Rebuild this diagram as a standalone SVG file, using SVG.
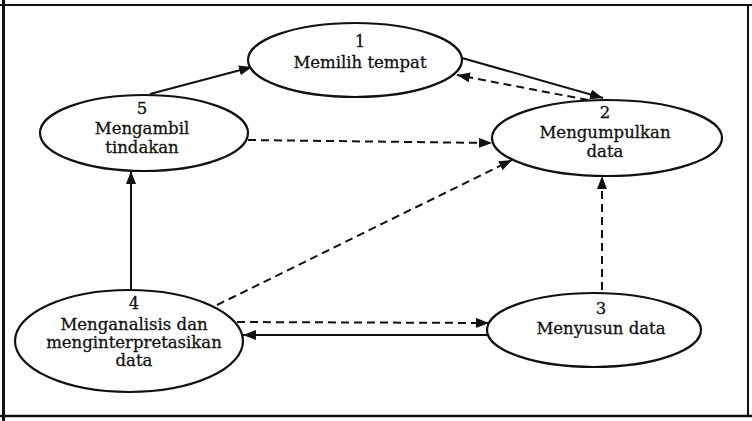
<svg xmlns="http://www.w3.org/2000/svg" width="752" height="421" viewBox="0 0 752 421">
  <style>
    .node ellipse { fill: #ffffff; stroke: #111; stroke-width: 2.2; }
    .node text { font-family: "DejaVu Serif", "Liberation Serif", serif; font-size: 16.5px; fill: #111; stroke: #111; stroke-width: 0.3; text-anchor: middle; }
    .edge { stroke: #111; stroke-width: 2; fill: none; marker-end: url(#head); }
    .dashed { stroke-dasharray: 8 5; }
    .frame { fill: none; stroke: #111; }
  </style>
  <defs>
    <marker id="head" markerUnits="userSpaceOnUse" markerWidth="14" markerHeight="11" refX="13" refY="5" orient="auto">
      <path d="M0,0 L13,5 L0,10 z" fill="#111"/>
    </marker>
  </defs>

  <rect width="752" height="421" fill="#ffffff"/>

  <!-- page frame -->
  <line class="frame" x1="0" y1="5" x2="752" y2="5" stroke-width="2"/>
  <line class="frame" x1="3.5" y1="0" x2="3.5" y2="421" stroke-width="3"/>
  <line class="frame" x1="0" y1="416" x2="752" y2="416" stroke-width="2.5"/>
  <line class="frame" x1="748" y1="5" x2="748" y2="416" stroke-width="2"/>

  <!-- connectors -->
  <g id="connectors">
    <path class="edge" d="M150,94 L252,67"/>
    <path class="edge" d="M462,58 L603,98"/>
    <path class="edge dashed" d="M588,100 L457,75"/>
    <path class="edge dashed" d="M248,140 L492,143"/>
    <path class="edge dashed" d="M217,305 L512,160"/>
    <path class="edge dashed" d="M602,290 L602,176"/>
    <path class="edge dashed" d="M237,322 L489,323"/>
    <path class="edge" d="M488,335 L243,335"/>
    <path class="edge" d="M131,290 L131,171"/>
  </g>

  <g id="node1" class="node">
    <ellipse cx="355" cy="60" rx="107" ry="37"/>
    <text x="360" y="47">1</text>
    <text x="360" y="68">Memilih tempat</text>
  </g>

  <g id="node2" class="node">
    <ellipse cx="607" cy="138" rx="115" ry="38"/>
    <text x="605" y="118">2</text>
    <text x="605" y="138">Mengumpulkan</text>
    <text x="605" y="157">data</text>
  </g>

  <g id="node3" class="node">
    <ellipse cx="594" cy="330" rx="107" ry="37"/>
    <text x="601" y="314">3</text>
    <text x="601" y="334">Menyusun data</text>
  </g>

  <g id="node4" class="node">
    <ellipse cx="129" cy="341" rx="114" ry="51"/>
    <text x="134" y="309">4</text>
    <text x="134" y="330">Menganalisis dan</text>
    <text x="134" y="348">menginterpretasikan</text>
    <text x="134" y="366">data</text>
  </g>

  <g id="node5" class="node">
    <ellipse cx="144" cy="133" rx="104" ry="38"/>
    <text x="142" y="114">5</text>
    <text x="142" y="134">Mengambil</text>
    <text x="142" y="153">tindakan</text>
  </g>
</svg>
